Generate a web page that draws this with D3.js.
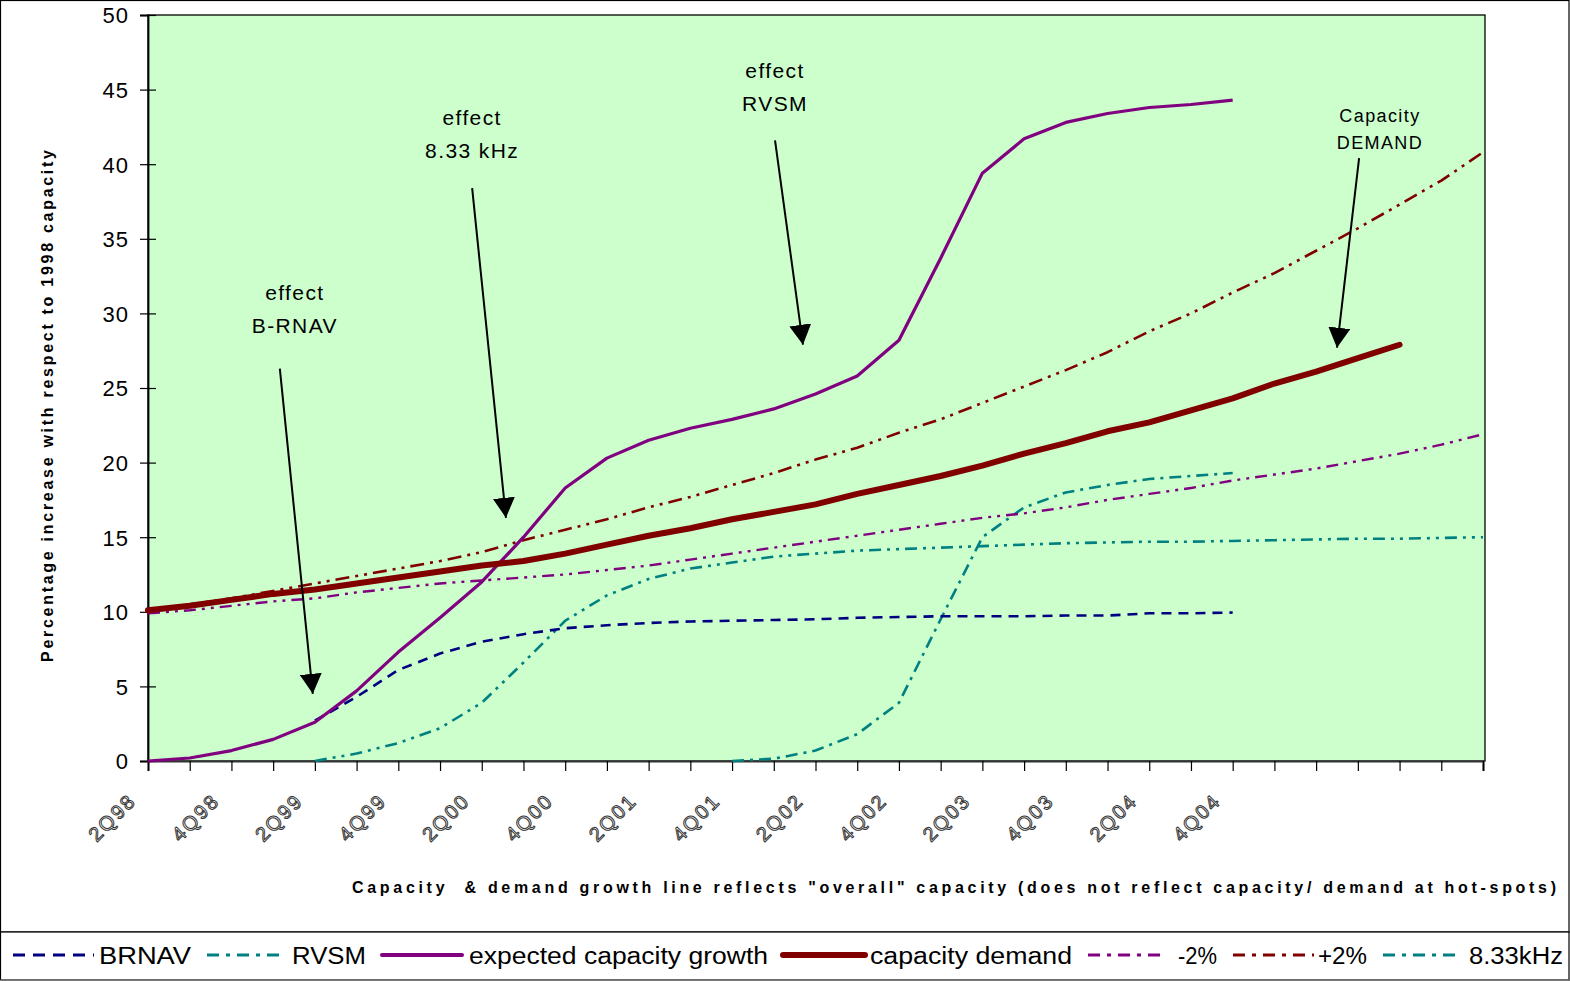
<!DOCTYPE html>
<html>
<head>
<meta charset="utf-8">
<script src="https://cdn.jsdelivr.net/npm/d3@7"></script>
<style>
  html, body { margin: 0; padding: 0; background: #fff; }
  svg { display: block; font-family: "Liberation Sans", Arial, sans-serif; }
</style>
</head>
<body>
<svg id="chart" width="1570" height="981"></svg>
<script>
// Quarters on the category axis (one tick per quarter)
const categories = ["2Q98","3Q98","4Q98","1Q99","2Q99","3Q99","4Q99","1Q00","2Q00","3Q00","4Q00",
  "1Q01","2Q01","3Q01","4Q01","1Q02","2Q02","3Q02","4Q02","1Q03","2Q03","3Q03","4Q03",
  "1Q04","2Q04","3Q04","4Q04","1Q05","2Q05","3Q05","4Q05","1Q06","2Q06"];

// Quarters that carry a printed label
const tickLabels = ["2Q98","4Q98","2Q99","4Q99","2Q00","4Q00","2Q01","4Q01","2Q02","4Q02","2Q03","4Q03","2Q04","4Q04"];

const yTicks = [0,5,10,15,20,25,30,35,40,45,50];

// Percentage increase with respect to 1998 capacity, per quarter (null = no value)
const brnav = [null,null,null,null,
  2.7,4.3,6.1,7.2,8.0,8.5,8.9,9.1,9.25,9.35,9.4,9.45,9.5,9.6,9.65,9.7,9.7,9.7,9.75,9.75,9.9,9.9,9.95,
  null,null,null,null,null,null];

const rvsm = [null,null,null,null,null,null,null,null,null,null,null,null,null,null,
  0,0.15,0.7,1.8,3.9,9.5,15.0,17.0,18.0,18.5,18.9,19.1,19.3,
  null,null,null,null,null,null];

const expectedGrowth = [0,0.2,0.7,1.45,2.6,4.7,7.3,9.6,12.0,15.0,18.3,20.3,21.5,22.3,22.9,23.6,24.6,25.8,
  28.2,33.7,39.4,41.7,42.8,43.4,43.8,44.0,44.3,
  null,null,null,null,null,null];

const capacityDemand = [10.1,10.4,10.8,11.2,11.5,11.9,12.3,12.7,13.1,13.4,13.9,14.5,15.1,15.6,16.2,16.7,
  17.2,17.9,18.5,19.1,19.8,20.6,21.3,22.1,22.7,23.5,24.3,25.3,26.1,27.0,27.9,null,null];

const minus2 = [9.9,10.1,10.4,10.7,10.9,11.3,11.6,11.9,12.1,12.3,12.5,12.8,13.1,13.5,13.9,14.3,14.7,15.1,
  15.5,15.9,16.3,16.6,17.0,17.5,17.9,18.3,18.8,19.2,19.6,20.1,20.6,21.2,21.9];

const plus2 = [10.1,10.5,10.9,11.4,11.9,12.4,12.9,13.4,14.0,14.8,15.5,16.2,17.0,17.7,18.5,19.3,20.2,21.0,
  22.0,22.9,24.0,25.1,26.2,27.4,28.8,30.0,31.4,32.7,34.2,35.7,37.3,38.9,40.8];

const khz833 = [null,null,null,null,
  0,0.5,1.2,2.2,3.9,6.6,9.4,11.1,12.2,12.9,13.3,13.7,13.9,14.1,14.2,14.3,14.4,14.5,14.6,14.65,14.7,14.7,14.75,
  14.8,14.85,14.9,14.9,14.95,15.0];

// Series names as printed in the legend
const seriesNames = ["BRNAV","RVSM","expected capacity growth","capacity demand","-2%","+2%","8.33kHz"];
const seriesValues = [brnav, rvsm, expectedGrowth, capacityDemand, minus2, plus2, khz833];

// Annotations: label lines and arrow (start -> tip), in axis units (category index, percent)
const notes = [
  { lines: ["effect","B-RNAV"], at: [3.52, 30.9], from: [3.16, 26.3], to: [3.95, 4.5], small: false },
  { lines: ["effect","8.33 kHz"], at: [7.77, 42.6], from: [7.77, 38.4], to: [8.58, 16.3], small: false },
  { lines: ["effect","RVSM"], at: [15.03, 45.8], from: [15.03, 41.6], to: [15.7, 27.9], small: false },
  { lines: ["Capacity","DEMAND"], at: [29.53, 42.8], from: [29.03, 40.4], to: [28.5, 27.7], small: true }
];

// ---- styles ----
const styles = {
  "BRNAV":                    { color: "#000080", width: 2.6, dash: "10,7" },
  "RVSM":                     { color: "#008080", width: 2.6, dash: "12,6,3,6" },
  "expected capacity growth": { color: "#800080", width: 3.2, dash: null },
  "capacity demand":          { color: "#800000", width: 6,   dash: null },
  "-2%":                      { color: "#800080", width: 2.4, dash: "12,6,3,6,3,6" },
  "+2%":                      { color: "#800000", width: 2.6, dash: "14,6,3,6,3,6" },
  "8.33kHz":                  { color: "#008080", width: 2.6, dash: "12,6,3,6,3,6" }
};
const drawOrder = ["8.33kHz","RVSM","BRNAV","-2%","+2%","expected capacity growth","capacity demand"];

// ---- layout ----
const plot = { left: 148, right: 1483, top: 15, bottom: 761 };
const legendY = 955;
const legendItems = [
  { x0: 13,   x1: 94,   tx: 99,   tw: 92 },
  { x0: 207,  x1: 286,  tx: 292,  tw: 74 },
  { x0: 382,  x1: 462,  tx: 469,  tw: 299 },
  { x0: 783,  x1: 865,  tx: 870,  tw: 202 },
  { x0: 1088, x1: 1162, tx: 1178, tw: 39 },
  { x0: 1233, x1: 1314, tx: 1318, tw: 49 },
  { x0: 1383, x1: 1455, tx: 1469, tw: 94 }
];

const svg = d3.select("#chart");

const x = d3.scalePoint().domain(categories).range([plot.left, plot.right]);
const xi = d3.scaleLinear().domain([0, categories.length - 1]).range([plot.left, plot.right]);
const y = d3.scaleLinear().domain([0, 50]).range([plot.bottom, plot.top]);

// Frames
svg.append("rect").attr("x", 0.5).attr("y", 0.5).attr("width", 1568.5).attr("height", 931.5)
  .attr("fill", "#fff").attr("stroke", "#000").attr("stroke-width", 1.2);
svg.append("rect").attr("x", 0.5).attr("y", 932).attr("width", 1568.5).attr("height", 48)
  .attr("fill", "#fff").attr("stroke", "#000").attr("stroke-width", 1.2);
svg.append("line").attr("x1", 0).attr("x2", 1570).attr("y1", 980.3).attr("y2", 980.3)
  .attr("stroke", "#777").attr("stroke-width", 1.4);

// Plot area
svg.append("rect")
  .attr("x", plot.left).attr("y", plot.top)
  .attr("width", plot.right - plot.left + 2).attr("height", plot.bottom - plot.top)
  .attr("fill", "#CCFFCC").attr("stroke", "#000").attr("stroke-width", 1.3);

// Y axis
const yAxis = svg.append("g").attr("transform", `translate(${plot.left},0)`)
  .call(d3.axisLeft(y).tickValues(yTicks).tickSize(8).tickPadding(0));
yAxis.select(".domain").attr("stroke", "#000").attr("stroke-width", 1.8);
yAxis.selectAll(".tick line").attr("x1", 8).attr("x2", -8).attr("stroke", "#000").attr("stroke-width", 1.2);
yAxis.selectAll(".tick text")
  .attr("x", -19).attr("dy", "0.36em")
  .attr("font-size", 22).attr("letter-spacing", 1).attr("fill", "#000")
  .attr("font-family", "'Liberation Sans', Arial, sans-serif");

// X axis
const xAxis = svg.append("g").attr("transform", `translate(0,${plot.bottom})`)
  .call(d3.axisBottom(x).tickSize(10).tickFormat(d => tickLabels.includes(d) ? d : ""));
xAxis.select(".domain").attr("stroke", "#333").attr("stroke-width", 2.2);
xAxis.selectAll(".tick line").attr("stroke", "#000").attr("stroke-width", 1.2);
xAxis.selectAll(".tick text")
  .attr("y", 0).attr("dy", 0)
  .attr("transform", "translate(-11,41) rotate(-45)")
  .attr("text-anchor", "end")
  .attr("font-size", 20).attr("letter-spacing", 2.2)
  .attr("fill", "#fff").attr("stroke", "#333").attr("stroke-width", 1)
  .attr("font-family", "'Liberation Sans', Arial, sans-serif");

// Series lines
const byName = {};
seriesNames.forEach((n, k) => byName[n] = seriesValues[k]);
const line = d3.line()
  .defined(d => d.v !== null)
  .x(d => x(d.c)).y(d => y(d.v));

drawOrder.forEach(name => {
  const st = styles[name];
  const pts = byName[name].map((v, k) => ({ c: categories[k], v }));
  svg.append("path")
    .datum(pts)
    .attr("d", line)
    .attr("fill", "none")
    .attr("stroke", st.color)
    .attr("stroke-width", st.width)
    .attr("stroke-dasharray", st.dash)
    .attr("stroke-linejoin", "round")
    .attr("stroke-linecap", name === "capacity demand" ? "round" : "butt");
});

// Arrowhead
svg.append("defs").append("marker")
  .attr("id", "arrowhead")
  .attr("markerUnits", "userSpaceOnUse")
  .attr("viewBox", "0 0 20 22").attr("refX", 20).attr("refY", 11)
  .attr("markerWidth", 20).attr("markerHeight", 22)
  .attr("orient", "auto")
  .append("path").attr("d", "M0,0 L20,11 L0,22 Z").attr("fill", "#000");

// Annotations
notes.forEach(n => {
  const fs = n.small ? 18 : 21;
  const gap = n.small ? 27 : 33;
  const tx = xi(n.at[0]), ty = y(n.at[1]);
  n.lines.forEach((t, k) => {
    svg.append("text")
      .attr("x", tx).attr("y", ty + k * gap)
      .attr("text-anchor", "middle")
      .attr("font-size", fs).attr("letter-spacing", 1.4)
      .attr("fill", "#000")
      .text(t);
  });
  svg.append("line")
    .attr("x1", xi(n.from[0])).attr("y1", y(n.from[1]))
    .attr("x2", xi(n.to[0])).attr("y2", y(n.to[1]))
    .attr("stroke", "#000").attr("stroke-width", 2)
    .attr("marker-end", "url(#arrowhead)");
});

// Axis titles
svg.append("text")
  .attr("transform", "translate(53,406) rotate(-90)")
  .attr("text-anchor", "middle")
  .attr("font-size", 16).attr("font-weight", "bold")
  .attr("textLength", 512).attr("lengthAdjust", "spacing")
  .text("Percentage increase with respect to 1998 capacity");

svg.append("text")
  .attr("x", 352).attr("y", 893)
  .attr("font-size", 16).attr("font-weight", "bold")
  .attr("textLength", 1204).attr("lengthAdjust", "spacing")
  .style("white-space", "pre")
  .text("Capacity  & demand growth line reflects \"overall\" capacity (does not reflect capacity/ demand at hot-spots)");

// Legend
seriesNames.forEach((name, k) => {
  const st = styles[name];
  const it = legendItems[k];
  svg.append("line")
    .attr("x1", it.x0).attr("x2", it.x1).attr("y1", legendY).attr("y2", legendY)
    .attr("stroke", st.color)
    .attr("stroke-width", name === "capacity demand" ? 6 : (name === "expected capacity growth" ? 4 : 3))
    .attr("stroke-dasharray", st.dash ? (name === "BRNAV" ? "12,8" : "12,7,4,7") : null)
    .attr("stroke-linecap", name === "capacity demand" || name === "expected capacity growth" ? "round" : "butt");
  svg.append("text")
    .attr("x", it.tx).attr("y", legendY + 9)
    .attr("font-size", 23)
    .attr("textLength", it.tw).attr("lengthAdjust", "spacingAndGlyphs")
    .attr("fill", "#000")
    .text(name);
});
</script>
</body>
</html>
